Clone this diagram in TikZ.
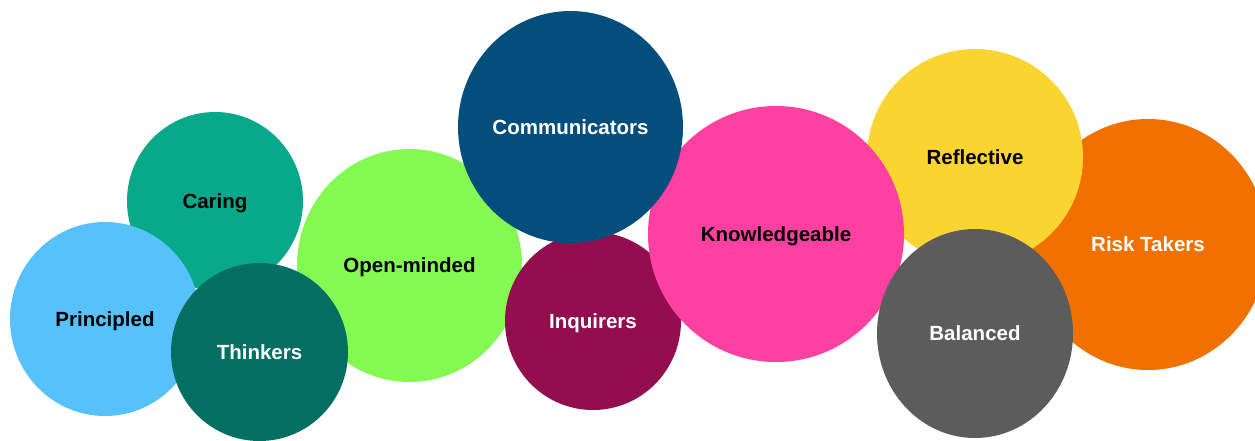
\documentclass[tikz,border=0pt]{standalone}
\usepackage{fontspec}
\setmainfont{Liberation Sans}
\usetikzlibrary{shapes.geometric}

\definecolor{caringcol}{HTML}{08A88A}
\definecolor{principledcol}{HTML}{56C1FB}
\definecolor{thinkerscol}{HTML}{036E62}
\definecolor{openmindedcol}{HTML}{83F952}
\definecolor{inquirerscol}{HTML}{930E4F}
\definecolor{communicatorscol}{HTML}{034E7C}
\definecolor{knowledgeablecol}{HTML}{FE40A0}
\definecolor{reflectivecol}{HTML}{FAD531}
\definecolor{risktakerscol}{HTML}{F07100}
\definecolor{balancedcol}{HTML}{5C5C5C}

\begin{document}
\begin{tikzpicture}[x=1pt, y=-1pt,
        bubble/.style={ellipse, inner sep=0pt, text depth=0pt, text=black, font=\bfseries\fontsize{20.5}{24}\selectfont},
        light/.style={text=white}]
        \useasboundingbox (0,0) rectangle (1255,440);
        \clip (0,0) rectangle (1255,440);
        % back row first, later bubbles overlap earlier ones
        \node[bubble, fill=caringcol, minimum width=176pt, minimum height=178pt] (caring) at (215,201) {Caring};
        \node[bubble, fill=principledcol, minimum width=190pt, minimum height=194pt] (principled) at (105,319) {Principled};
        \node[bubble, fill=openmindedcol, minimum width=225pt, minimum height=233pt] (openminded) at (409.5,265.5) {Open-minded};
        \node[bubble, light, fill=thinkerscol, minimum width=177pt, minimum height=178pt] (thinkers) at (259.5,352) {Thinkers};
        \node[bubble, light, fill=risktakerscol, minimum width=240pt, minimum height=251pt] (risktakers) at (1148,244.5) {Risk Takers};
        \node[bubble, fill=reflectivecol, minimum width=216pt, minimum height=216pt] (reflective) at (975,157) {Reflective};
        \node[bubble, light, fill=inquirerscol, minimum width=176pt, minimum height=178pt] (inquirers) at (593,321) {Inquirers};
        \node[bubble, fill=knowledgeablecol, minimum width=256pt, minimum height=256pt] (knowledgeable) at (776,234) {Knowledgeable};
        \node[bubble, light, fill=communicatorscol, minimum width=225pt, minimum height=232pt] (communicators) at (570.5,127) {Communicators};
        \node[bubble, light, fill=balancedcol, minimum width=196pt, minimum height=209pt] (balanced) at (975,333.5) {Balanced};
    \end{tikzpicture}
\end{document}
